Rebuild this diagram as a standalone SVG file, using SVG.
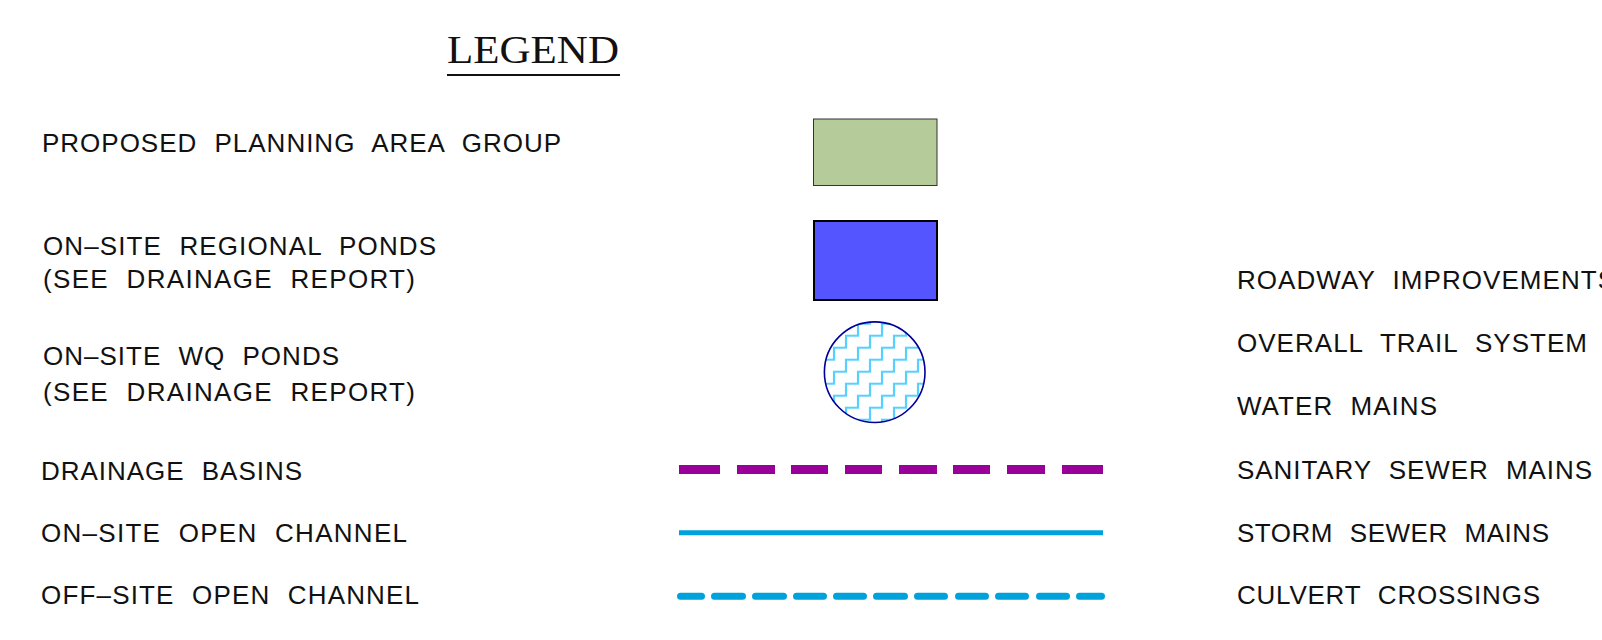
<svg xmlns="http://www.w3.org/2000/svg" width="1602" height="640" viewBox="0 0 1602 640">
<style>
.lbl{font-family:"Liberation Sans",Arial,sans-serif;font-size:26px;word-spacing:9px;fill:#111}
.ttl{font-family:"Liberation Serif","Times New Roman",serif;font-size:39px;fill:#111}
</style>
<defs>
<pattern id="hatch" patternUnits="userSpaceOnUse" x="834" y="371.7" width="24" height="24">
<path d="M-12,36H0V24H12V12H24V0H36V-12M12,36H24V24H36V12H48M-36,36H-24V24H-12V12H0V0H12V-12" fill="none" stroke="#55d0ff" stroke-width="2.2"/>
</pattern>
</defs>
<rect width="1602" height="640" fill="#fff"/>
<g id="title">
<text class="ttl" x="447" y="63" textLength="172" lengthAdjust="spacingAndGlyphs">LEGEND</text>
<line x1="447" y1="75" x2="620" y2="75" stroke="#111" stroke-width="2"/>
</g>
<g id="planning-area">
<text class="lbl" x="42" y="152" textLength="519" lengthAdjust="spacing">PROPOSED PLANNING AREA GROUP</text>
<rect x="813.5" y="119" width="123.5" height="66.5" fill="#b5cb9a" stroke="#333" stroke-width="1"/>
</g>
<g id="regional-ponds">
<text class="lbl" x="43" y="255" textLength="393" lengthAdjust="spacing">ON–SITE REGIONAL PONDS</text>
<text class="lbl" x="43" y="288" textLength="372" lengthAdjust="spacing">(SEE DRAINAGE REPORT)</text>
<rect x="814" y="221" width="123" height="79" fill="#5555ff" stroke="#000" stroke-width="2"/>
</g>
<g id="wq-ponds">
<text class="lbl" x="43" y="365" textLength="296" lengthAdjust="spacing">ON–SITE WQ PONDS</text>
<text class="lbl" x="43" y="401" textLength="372" lengthAdjust="spacing">(SEE DRAINAGE REPORT)</text>
<circle cx="874.7" cy="372.2" r="50.3" fill="#fff"/>
<circle cx="874.7" cy="372.2" r="50.3" fill="url(#hatch)" stroke="#000099" stroke-width="1.6"/>
</g>
<g id="drainage-basins">
<text class="lbl" x="41" y="479.5" textLength="261" lengthAdjust="spacing">DRAINAGE BASINS</text>
<path d="M679,469.5H720M737,469.5H775M791,469.5H828M845,469.5H882M899,469.5H937M953,469.5H990M1007,469.5H1045M1062,469.5H1103" stroke="#990099" stroke-width="9" fill="none"/>
</g>
<g id="onsite-channel">
<text class="lbl" x="41" y="542" textLength="366" lengthAdjust="spacing">ON–SITE OPEN CHANNEL</text>
<line x1="679" y1="532.7" x2="1103" y2="532.7" stroke="#00a2db" stroke-width="5"/>
</g>
<g id="offsite-channel">
<text class="lbl" x="41" y="604" textLength="378" lengthAdjust="spacing">OFF–SITE OPEN CHANNEL</text>
<path d="M680.5,596.3H701.5M714.5,596.3H742.5M755.5,596.3H783.5M796.5,596.3H823.5M836.5,596.3H863.5M876.5,596.3H904.5M917.5,596.3H944.5M958.5,596.3H985.5M998.5,596.3H1025.5M1039.5,596.3H1066.5M1079.5,596.3H1101.5" stroke="#00a2db" stroke-width="7" stroke-linecap="round" fill="none"/>
</g>
<g id="right-column">
<text class="lbl" x="1237" y="289" textLength="378" lengthAdjust="spacing">ROADWAY IMPROVEMENTS</text>
<text class="lbl" x="1237" y="352" textLength="350" lengthAdjust="spacing">OVERALL TRAIL SYSTEM</text>
<text class="lbl" x="1237" y="415" textLength="200" lengthAdjust="spacing">WATER MAINS</text>
<text class="lbl" x="1237" y="478.5" textLength="355" lengthAdjust="spacing">SANITARY SEWER MAINS</text>
<text class="lbl" x="1237" y="542" textLength="312" lengthAdjust="spacing">STORM SEWER MAINS</text>
<text class="lbl" x="1237" y="604" textLength="303" lengthAdjust="spacing">CULVERT CROSSINGS</text>
</g>
<g id="connectors"></g>
</svg>
